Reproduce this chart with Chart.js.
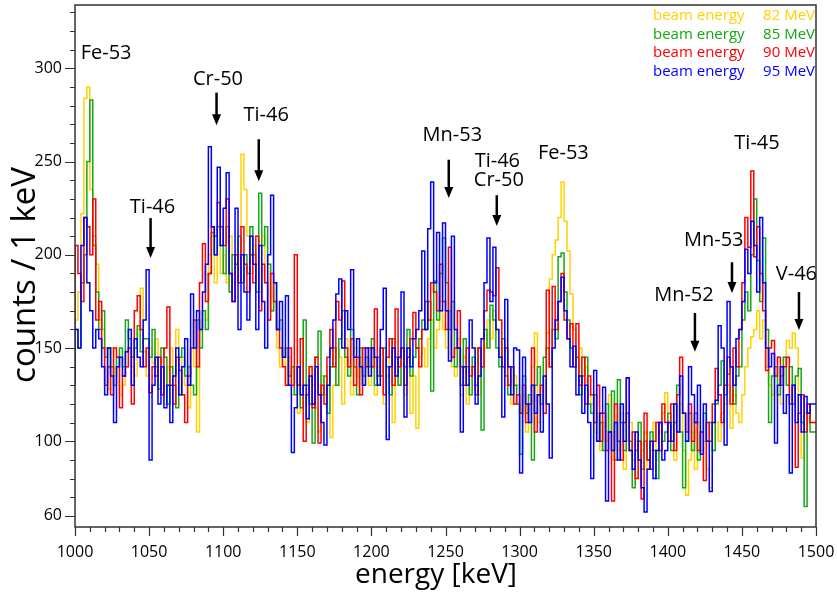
<!DOCTYPE html>
<html>
<head>
<meta charset="utf-8">
<script src="https://cdn.jsdelivr.net/npm/chart.js@4.4.1/dist/chart.umd.min.js"></script>
<style>
  body { margin: 0; background: #fff; }
  canvas { display: block; }
</style>
</head>
<body>
<canvas id="spectrum" width="837" height="596"></canvas>
<script>
// histogram binning (keV)
const energyStart = 1000;
const binWidth = 2;

// counts per bin, 50 keV per row
const counts82 = [
  125,165,180,222,284,290,235,210,195,165,160,150,128,150,135,140,125,130,148,150,140,135,160,182,148,
  135,150,142,155,130,140,120,140,150,135,160,125,145,130,118,150,140,105,160,170,165,200,210,185,205,
  190,200,185,210,175,195,200,254,235,210,190,205,195,180,210,185,195,170,175,150,140,150,130,145,125,
  140,115,130,125,110,140,130,118,105,135,125,140,102,130,150,145,120,155,140,125,150,135,145,130,140,
  130,145,125,140,150,120,135,145,110,140,130,150,125,140,115,135,107,145,150,140,155,165,150,160,175,
  160,150,170,140,135,155,125,145,120,140,130,150,125,140,150,165,155,170,160,145,150,130,140,120,135,
  130,115,125,105,120,140,158,110,125,135,158,187,200,208,220,239,218,202,179,160,145,150,130,140,125,
  120,105,115,95,110,100,125,90,105,95,115,85,100,110,90,100,80,95,105,85,95,110,90,105,115,
  126,100,110,90,105,120,95,71,90,105,85,110,95,100,85,75,95,110,100,115,120,130,107,125,115,
  110,125,140,150,156,160,170,155,165,140,130,125,135,140,120,145,154,150,158,150,125,91,115,120,110
];
const counts85 = [
  135,160,150,185,200,250,283,205,180,160,170,145,150,140,130,145,150,140,165,155,145,150,162,148,155,
  155,145,160,140,128,150,145,120,140,130,118,145,150,135,140,130,125,165,150,170,160,190,212,200,215,
  205,190,215,180,200,195,210,185,200,190,215,200,180,233,205,215,195,170,185,160,165,145,150,135,140,
  125,140,118,165,130,120,99,145,159,125,135,115,140,150,130,155,170,145,135,160,140,125,150,135,145,
  140,155,130,145,135,150,140,125,155,145,130,150,140,160,135,145,150,155,165,160,175,127,186,165,190,
  209,185,160,175,140,150,130,155,140,125,145,130,150,106,160,150,173,165,150,140,155,135,125,140,130,
  120,93,135,115,125,90,130,140,120,145,150,140,160,155,199,201,180,165,150,140,145,125,135,145,120,
  115,125,100,110,95,120,105,127,90,133,110,95,115,100,75,95,110,85,100,90,105,95,80,110,100,
  105,115,95,110,130,105,75,100,115,95,110,90,105,115,100,110,95,120,130,143,125,136,140,120,135,
  140,165,180,170,200,230,197,175,209,160,110,135,140,125,135,145,130,140,120,135,139,110,65,115,105
];
const counts90 = [
  145,205,190,175,220,215,200,230,165,175,150,130,140,125,150,145,118,135,140,150,120,170,178,160,140,
  150,126,140,135,145,125,150,172,130,120,145,138,125,110,135,150,165,140,185,206,175,190,215,210,228,
  215,205,230,190,175,200,185,215,195,180,200,185,210,170,195,185,165,190,175,160,150,140,130,150,130,
  200,130,155,100,125,140,118,145,99,130,120,145,160,140,175,165,186,150,140,155,130,145,125,150,140,
  150,140,171,135,150,125,145,155,130,171,140,150,130,145,155,169,150,140,160,175,165,185,180,170,195,
  175,160,204,145,150,170,140,130,150,135,140,125,150,140,170,181,180,178,193,165,140,150,130,140,120,
  125,115,130,110,120,150,105,125,130,115,181,140,183,160,175,190,165,155,163,140,163,130,145,120,135,
  125,110,130,100,115,95,105,68,120,100,90,110,134,95,105,80,100,69,115,90,85,100,110,95,120,
  110,100,120,95,125,145,115,105,120,100,115,95,105,79,110,100,120,139,125,110,130,145,120,150,140,
  160,185,220,204,245,199,215,190,170,138,150,154,135,145,130,140,145,120,130,86,115,125,105,120,110
];
const counts95 = [
  130,160,150,205,220,185,170,150,160,155,140,125,150,135,110,140,145,135,148,160,130,155,145,140,165,
  192,90,130,145,120,140,118,130,110,135,150,125,140,155,130,179,150,170,160,180,195,258,215,200,247,
  205,225,244,190,175,225,160,200,180,165,210,195,160,205,175,150,200,232,185,160,175,145,178,130,94,
  118,140,125,130,112,135,120,140,125,110,98,130,150,165,179,187,150,170,160,192,145,155,140,130,150,
  135,150,145,130,160,182,101,140,150,135,145,180,113,150,140,155,160,170,202,160,214,239,185,212,170,
  217,170,143,210,160,150,105,140,130,165,150,120,135,155,185,209,175,204,160,145,113,176,140,125,150,
  149,83,145,120,110,130,115,125,105,135,120,91,150,165,175,188,170,155,140,151,125,135,115,130,110,
  80,138,100,115,129,68,105,95,110,90,120,100,134,95,85,105,90,75,62,85,100,80,95,110,90,
  95,110,100,120,105,135,115,100,140,125,110,130,93,120,100,73,110,122,162,150,98,175,140,130,155,
  160,175,203,190,218,205,180,220,185,150,140,147,99,130,140,115,125,83,130,110,125,105,124,115,120
];

const beamEnergies = ['82 MeV', '85 MeV', '90 MeV', '95 MeV'];
const seriesColors = ['#ffd200', '#14a814', '#ff0000', '#0000ff'];

const xTickLabels = [1000, 1050, 1100, 1150, 1200, 1250, 1300, 1350, 1400, 1450, 1500];
const yTickLabels = [60, 100, 150, 200, 250, 300];

// isotope labels: [text, energy, counts], arrows: [energy, counts from, counts to]
const peakLabels = [
  ['Fe-53', 1021, 308], ['Cr-50', 1096.5, 294], ['Ti-46', 1129, 275],
  ['Ti-46', 1052.3, 225.6], ['Mn-53', 1254.6, 264.3], ['Ti-46', 1285, 250],
  ['Cr-50', 1286, 240], ['Fe-53', 1329.5, 254.6], ['Ti-45', 1460.2, 260],
  ['Mn-53', 1431, 208], ['Mn-52', 1410.9, 178.4], ['V-46', 1486.8, 189.7]
];
const peakArrows = [
  [1095.5, 287, 269.5], [1124, 262, 239.5], [1051, 219.7, 198.3],
  [1252.2, 251, 230.5], [1284.6, 232, 215.5], [1443.3, 196, 179.5],
  [1418.3, 168.8, 148], [1488.5, 180, 159.7]
];

function toSteps(counts) {
  const pts = counts.map((c, i) => ({ x: energyStart + i * binWidth, y: c }));
  pts.push({ x: energyStart + counts.length * binWidth, y: counts[counts.length - 1] });
  return pts;
}

const allCounts = [counts82, counts85, counts90, counts95];
const datasets = allCounts.map((c, i) => ({
  label: 'beam energy ' + beamEnergies[i],
  data: toSteps(c),
  borderColor: seriesColors[i],
  backgroundColor: seriesColors[i],
  borderWidth: 1.5,
  stepped: 'after',
  pointRadius: 0,
  fill: false,
  order: 3 - i
}));

const FONT = '"Open Sans", "DejaVu Sans", sans-serif';

// frame, ticks, titles, peak labels and legend
const decorations = {
  id: 'decorations',
  afterDraw(chart) {
    const { ctx, chartArea: a, scales: { x, y } } = chart;
    ctx.save();
    ctx.strokeStyle = '#333';
    ctx.lineWidth = 1.5;
    ctx.strokeRect(a.left, a.top, a.right - a.left, a.bottom - a.top);

    ctx.lineWidth = 1.2;
    ctx.beginPath();
    for (let e = 1000; e <= 1500; e += 10) {
      const px = Math.round(x.getPixelForValue(e)) + 0.5;
      const len = e % 50 === 0 ? 9 : 5;
      ctx.moveTo(px, a.bottom);
      ctx.lineTo(px, a.bottom + len);
    }
    for (let v = 60; v <= 330; v += 10) {
      const py = Math.round(y.getPixelForValue(v)) + 0.5;
      const len = yTickLabels.includes(v) ? 10 : 5;
      ctx.moveTo(a.left, py);
      ctx.lineTo(a.left - len, py);
    }
    ctx.stroke();

    // axis titles
    ctx.fillStyle = '#000';
    ctx.textAlign = 'center';
    ctx.textBaseline = 'middle';
    ctx.font = '28px ' + FONT;
    ctx.fillText('energy [keV]', 436, 575);
    ctx.save();
    ctx.translate(26, 275);
    ctx.rotate(-Math.PI / 2);
    ctx.font = '33px ' + FONT;
    ctx.fillText('counts / 1 keV', 0, 0);
    ctx.restore();

    // isotope labels
    ctx.font = '20px ' + FONT;
    peakLabels.forEach(([t, e, c]) => {
      ctx.fillText(t, x.getPixelForValue(e), y.getPixelForValue(c));
    });
    ctx.strokeStyle = '#000';
    ctx.lineWidth = 2.5;
    peakArrows.forEach(([e, c0, c1]) => {
      const px = x.getPixelForValue(e);
      const y0 = y.getPixelForValue(c0);
      const y1 = y.getPixelForValue(c1);
      ctx.beginPath();
      ctx.moveTo(px, y0);
      ctx.lineTo(px, y1 - 8);
      ctx.stroke();
      ctx.beginPath();
      ctx.moveTo(px - 4.5, y1 - 11);
      ctx.lineTo(px + 4.5, y1 - 11);
      ctx.lineTo(px, y1);
      ctx.closePath();
      ctx.fill();
    });

    // legend
    ctx.font = '15px ' + FONT;
    chart.data.datasets.forEach((ds, i) => {
      const ty = a.top + 11 + i * 18.5;
      ctx.fillStyle = ds.borderColor;
      ctx.textAlign = 'left';
      ctx.fillText('beam energy', a.right - 163, ty);
      ctx.textAlign = 'right';
      ctx.fillText(beamEnergies[i], a.right - 1, ty);
    });
    ctx.restore();
  }
};

new Chart(document.getElementById('spectrum'), {
  type: 'line',
  data: { datasets },
  options: {
    responsive: false,
    animation: false,
    devicePixelRatio: 1,
    layout: { padding: { top: 5, right: 21, left: 0, bottom: 0 } },
    plugins: { legend: { display: false }, tooltip: { enabled: false } },
    scales: {
      x: {
        type: 'linear',
        min: 1000,
        max: 1500,
        afterFit: s => {
          s.height = 69;
          s.paddingLeft = 0;
          s.paddingRight = 0;
        },
        afterBuildTicks: s => { s.ticks = xTickLabels.map(v => ({ value: v })); },
        grid: { display: true, drawOnChartArea: false, drawTicks: false },
        border: { display: false },
        ticks: {
          padding: 16, color: '#000', maxRotation: 0,
          font: { family: FONT, size: 16 },
          callback: v => String(v)
        }
      },
      y: {
        type: 'linear',
        min: 54,
        max: 334,
        afterFit: s => {
          s.width = 75;
          s.paddingTop = 0;
          s.paddingBottom = 0;
        },
        afterBuildTicks: s => { s.ticks = yTickLabels.map(v => ({ value: v })); },
        grid: { display: true, drawOnChartArea: false, drawTicks: false },
        border: { display: false },
        ticks: { padding: 13, color: '#000', font: { family: FONT, size: 16 } }
      }
    }
  },
  plugins: [decorations]
});
</script>
</body>
</html>
